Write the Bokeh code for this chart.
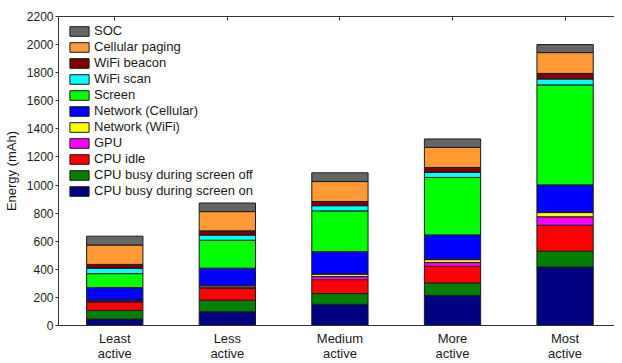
from bokeh.plotting import figure
from bokeh.models import (ColumnDataSource, Range1d, LinearAxis, FixedTicker,
                          Legend, LegendItem)
from bokeh.embed import file_html
from bokeh.resources import INLINE

# ---- data ----
groups = ["Least\nactive", "Less\nactive", "Medium\nactive", "More\nactive", "Most\nactive"]
xpos = [1, 2, 3, 4, 5]

cpu_on = [46, 98, 151, 215, 417]
cpu_off = [62, 82, 76, 88, 112]
cpu_idle = [60, 85, 100, 119, 185]
gpu = [6, 10, 21, 26, 60]
net_wifi = [6, 9, 17, 21, 30]
net_cell = [90, 124, 161, 176, 197]
screen = [99, 199, 290, 409, 712]
wifi_scan = [39, 37, 37, 36, 42]
wifi_beacon = [27, 30, 30, 35, 40]
paging = [138, 137, 142, 143, 148]
soc = [63, 61, 62, 60, 57]

series_names = ["CPU busy during screen on", "CPU busy during screen off", "CPU idle",
                "GPU", "Network (WiFi)", "Network (Cellular)", "Screen", "WiFi scan",
                "WiFi beacon", "Cellular paging", "SOC"]
series_vals = [cpu_on, cpu_off, cpu_idle, gpu, net_wifi, net_cell, screen,
               wifi_scan, wifi_beacon, paging, soc]
colors = ["#000080", "#008000", "#FF0000", "#FF00FF", "#FFFF00", "#0000FF",
          "#00FF00", "#00FFFF", "#800000", "#FF9933", "#666666"]

yticks = list(range(0, 2201, 200))

keys = ["s%d" % i for i in range(len(series_vals))]
data = {"x": xpos}
for k, v in zip(keys, series_vals):
    data[k] = v
source = ColumnDataSource(data)

FONT = "Liberation Sans"
TXT = "#1a1a1a"
AX = "#333333"

p = figure(width=614, height=363, output_backend="svg", toolbar_location=None,
           x_range=Range1d(0.5, 5.439), y_range=Range1d(0, 2200),
           min_border_left=50, min_border_right=0, min_border_top=16, min_border_bottom=38,
           x_axis_location=None, y_axis_location=None)
p.outline_line_color = None
p.xgrid.visible = False
p.ygrid.visible = False
p.background_fill_color = "white"

renderers = p.vbar_stack(keys, x="x", width=0.5, color=colors, source=source,
                         line_color="#1a1a1a", line_width=1)

# left axis
yaxis = LinearAxis(ticker=FixedTicker(ticks=yticks), axis_label="Energy (mAh)")
yaxis.major_tick_in = 0
yaxis.major_tick_out = 3
yaxis.minor_tick_line_color = None
yaxis.major_label_standoff = 2
yaxis.axis_label_standoff = 5
yaxis.major_label_text_font = FONT
yaxis.major_label_text_font_size = "12px"
yaxis.major_label_text_color = TXT
yaxis.axis_label_text_font = FONT
yaxis.axis_label_text_font_size = "13px"
yaxis.axis_label_text_font_style = "normal"
yaxis.axis_label_text_color = TXT
yaxis.axis_line_color = AX
yaxis.major_tick_line_color = AX
p.add_layout(yaxis, "left")

# bottom axis
xaxis = LinearAxis(ticker=FixedTicker(ticks=xpos))
xaxis.major_label_overrides = {x: g for x, g in zip(xpos, groups)}
xaxis.major_tick_in = 0
xaxis.major_tick_out = 0
xaxis.minor_tick_line_color = None
xaxis.major_label_standoff = 5
xaxis.major_label_text_font = FONT
xaxis.major_label_text_font_size = "13px"
xaxis.major_label_text_line_height = 1.0
xaxis.major_label_text_color = TXT
xaxis.axis_line_color = AX
p.add_layout(xaxis, "below")

# top axis (frame line with inward ticks, no labels)
top = LinearAxis(ticker=FixedTicker(ticks=xpos))
top.major_label_overrides = {x: "" for x in xpos}
top.major_tick_in = 4
top.major_tick_out = 0
top.minor_tick_line_color = None
top.major_label_standoff = 0
top.axis_line_color = AX
top.major_tick_line_color = AX
p.add_layout(top, "above")

items = [LegendItem(label=n, renderers=[r]) for n, r in zip(series_names, renderers)]
items = items[::-1]
legend = Legend(items=items, location=(9, 127))
legend.margin = 0
legend.padding = 0
legend.spacing = 1
legend.glyph_width = 24
legend.glyph_height = 12
legend.label_height = 12
legend.label_standoff = 3
legend.label_text_font = FONT
legend.label_text_font_size = "13px"
legend.label_text_color = TXT
legend.border_line_color = None
legend.background_fill_alpha = 0
p.add_layout(legend, "center")

open("out.html", "w").write(file_html(p, INLINE))
